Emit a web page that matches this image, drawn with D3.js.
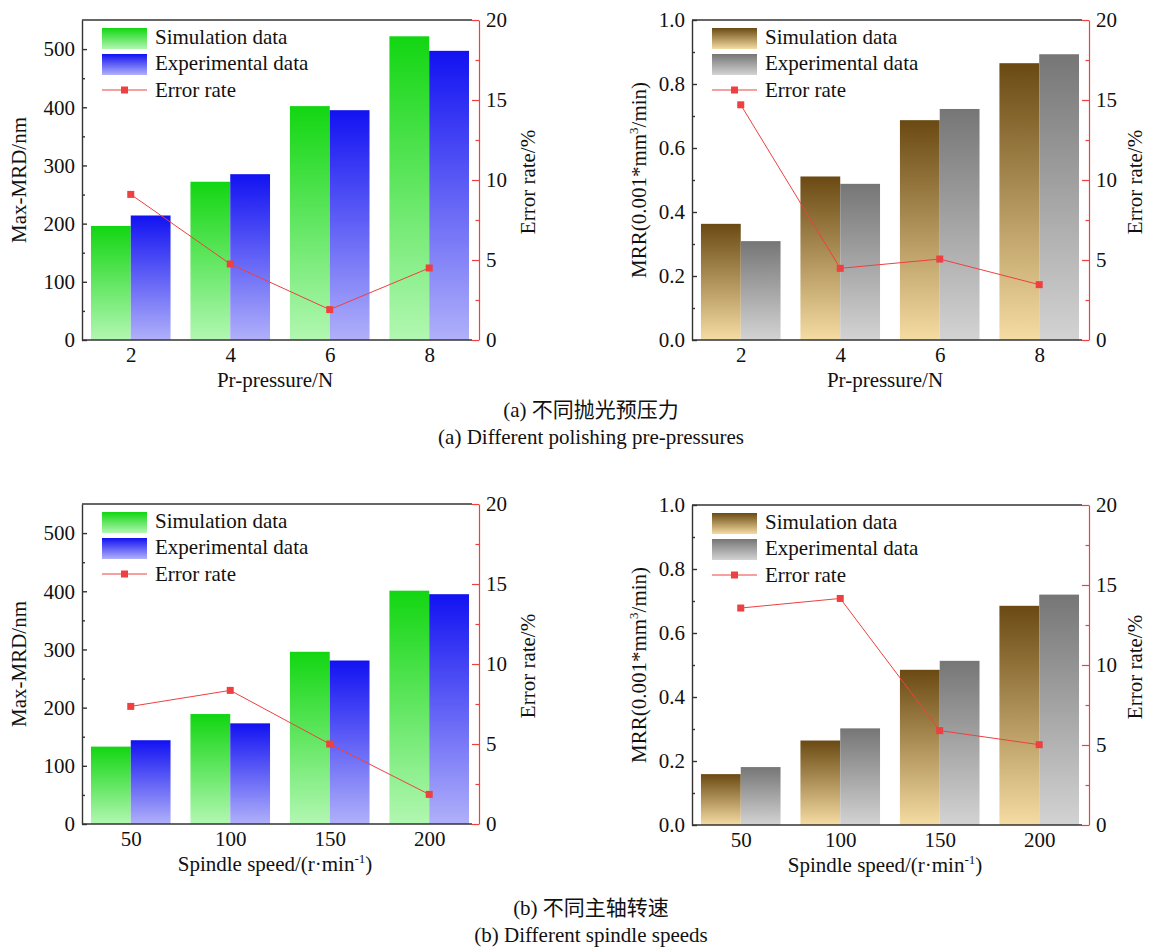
<!DOCTYPE html>
<html>
<head>
<meta charset="utf-8">
<script src="https://cdn.jsdelivr.net/npm/d3@7"></script>
<style>
  body { margin: 0; background: #fff; }
</style>
</head>
<body>
<svg id="svg" width="1152" height="951"></svg>
<script>
// values
var pressure = ["2", "4", "6", "8"];
var mrdSimA = [196, 272, 402, 522];
var mrdExpA = [214, 285, 395, 497];
var mrdErrA = [9.1, 4.75, 1.9, 4.5];
var mrrSimA = [0.363, 0.511, 0.687, 0.865];
var mrrExpA = [0.309, 0.488, 0.722, 0.893];
var mrrErrA = [14.7, 4.48, 5.06, 3.46];

var speed = ["50", "100", "150", "200"];
var mrdSimB = [133, 189, 296, 401];
var mrdExpB = [144, 173, 281, 395];
var mrdErrB = [7.35, 8.35, 5.0, 1.85];
var mrrSimB = [0.159, 0.264, 0.485, 0.685];
var mrrExpB = [0.181, 0.302, 0.513, 0.72];
var mrrErrB = [13.56, 14.16, 5.9, 5.02];

var legendNames = ["Simulation data", "Experimental data", "Error rate"];

var svg = d3.select("#svg");
var W = 390, H = 320;
var red = "#ee4040", axisColor = "#333";
var serif = "'Liberation Serif', 'Times New Roman', serif";
var cjk = "'Liberation Serif', 'Noto Sans CJK SC', serif";

// gradients (per bar, top -> bottom)
var defs = svg.append("defs");
function grad(id, top, bottom) {
  var g = defs.append("linearGradient").attr("id", id)
    .attr("x1", 0).attr("y1", 0).attr("x2", 0).attr("y2", 1);
  g.append("stop").attr("offset", "0%").attr("stop-color", top);
  g.append("stop").attr("offset", "100%").attr("stop-color", bottom);
}
grad("gGreen", "#12d612", "#b2f7b2");
grad("gBlue", "#1212f2", "#b0b0fa");
grad("gBrown", "#6a4a12", "#f5dca2");
grad("gGray", "#767676", "#d3d3d3");

function panel(o) {
  var g = svg.append("g").attr("transform", "translate(" + o.left + "," + o.top + ")");

  var x = d3.scaleLinear().domain([-0.49, 3.43]).range([0, W]);
  var y = d3.scaleLinear().domain(o.yDomain).range([H, 0]);
  var y2 = d3.scaleLinear().domain([0, 20]).range([H, 0]);
  var bw = x(0.4) - x(0);

  // bars
  g.selectAll(".sim").data(o.sim).enter().append("rect")
    .attr("x", function(d, i) { return x(i) - bw; })
    .attr("y", function(d) { return y(d); })
    .attr("width", bw)
    .attr("height", function(d) { return H - y(d); })
    .attr("fill", "url(#" + o.simFill + ")");
  g.selectAll(".exp").data(o.exp).enter().append("rect")
    .attr("x", function(d, i) { return x(i); })
    .attr("y", function(d) { return y(d); })
    .attr("width", bw)
    .attr("height", function(d) { return H - y(d); })
    .attr("fill", "url(#" + o.expFill + ")");

  // error rate line
  var line = d3.line().x(function(d, i) { return x(i); }).y(function(d) { return y2(d); });
  g.append("path").datum(o.err).attr("d", line)
    .attr("fill", "none").attr("stroke", red).attr("stroke-width", 1);
  g.selectAll(".pt").data(o.err).enter().append("rect")
    .attr("x", function(d, i) { return x(i) - 3.5; })
    .attr("y", function(d) { return y2(d) - 3.5; })
    .attr("width", 7).attr("height", 7)
    .attr("fill", red);

  // left axis, inward ticks
  var ax = g.append("g").call(d3.axisLeft(y).tickValues(o.major)
      .tickFormat(o.fmt).tickSizeInner(-5).tickSizeOuter(0).tickPadding(7));
  var axm = g.append("g").call(d3.axisLeft(y).tickValues(o.minor).tickFormat("")
      .tickSizeInner(-3).tickSizeOuter(0));
  axm.select(".domain").remove();

  // bottom axis, labels only
  var bx = g.append("g").attr("transform", "translate(0," + H + ")")
    .call(d3.axisBottom(x).tickValues([0, 1, 2, 3])
      .tickFormat(function(i) { return o.cats[i]; }).tickSize(0).tickPadding(7));
  bx.select(".domain").attr("d", "M0,0H" + W);

  // top frame
  g.append("line").attr("x1", 0).attr("x2", W).attr("y1", 0).attr("y2", 0)
    .attr("stroke", axisColor).attr("stroke-width", 1.4);

  // right axis (red), ticks pointing in
  var rx = g.append("g").attr("transform", "translate(" + (W + 7) + ",0)")
    .call(d3.axisRight(y2).tickValues([0, 5, 10, 15, 20]).tickSizeInner(-7)
      .tickSizeOuter(0).tickPadding(7));
  var rxm = g.append("g").attr("transform", "translate(" + (W + 7) + ",0)")
    .call(d3.axisRight(y2).tickValues([2.5, 7.5, 12.5, 17.5]).tickFormat("")
      .tickSizeInner(-3.5).tickSizeOuter(0));
  rxm.select(".domain").remove();

  [ax, axm, bx].forEach(function(a) {
    a.selectAll("path, line").attr("stroke", axisColor).attr("stroke-width", 1.4);
  });
  [rx, rxm].forEach(function(a) {
    a.selectAll("path, line").attr("stroke", red).attr("stroke-width", 1.2);
  });
  g.selectAll(".tick text").style("font-size", "21px");

  // axis titles
  var xt = g.append("text").attr("x", W / 2 - 2).attr("y", H + 47)
    .attr("text-anchor", "middle").style("font-size", "21px");
  o.xTitle(xt);
  var yt = g.append("text")
    .attr("transform", "translate(" + o.yTitleX + "," + H / 2 + ") rotate(-90)")
    .attr("text-anchor", "middle").style("font-size", "21px");
  o.yTitle(yt);
  g.append("text")
    .attr("transform", "translate(" + (W + o.rTitleX) + "," + (H / 2 + 2) + ") rotate(-90)")
    .attr("text-anchor", "middle").style("font-size", "21px")
    .text("Error rate/%");

  // legend
  var lg = g.append("g").attr("transform", "translate(20,0)");
  lg.append("rect").attr("x", 0).attr("y", 8).attr("width", 45).attr("height", 21)
    .attr("fill", "url(#" + o.simFill + ")");
  lg.append("rect").attr("x", 0).attr("y", 34).attr("width", 45).attr("height", 21)
    .attr("fill", "url(#" + o.expFill + ")");
  lg.append("line").attr("x1", 0).attr("x2", 45).attr("y1", 70).attr("y2", 70)
    .attr("stroke", red).attr("stroke-width", 1);
  lg.append("rect").attr("x", 19).attr("y", 66.5).attr("width", 7).attr("height", 7)
    .attr("fill", red);
  lg.selectAll(".lt").data(legendNames).enter().append("text")
    .attr("x", 53)
    .attr("y", function(d, i) { return [24, 50, 77][i]; })
    .style("font-size", "21px")
    .text(function(d) { return d; });
}

function mrdTitle(t) { t.text("Max-MRD/nm"); }
function mrrTitle(t) {
  t.append("tspan").text("MRR(0.001*mm");
  t.append("tspan").attr("dy", -8).style("font-size", "13px").text("3");
  t.append("tspan").attr("dy", 8).text("/min)");
}
function pressTitle(t) { t.text("Pr-pressure/N"); }
function speedTitle(t) {
  t.append("tspan").text("Spindle speed/(r\u00b7min");
  t.append("tspan").attr("dy", -8).style("font-size", "13px").text("-1");
  t.append("tspan").attr("dy", 8).text(")");
}

var mrdOpts = {
  yDomain: [0, 550], major: [0, 100, 200, 300, 400, 500],
  minor: [50, 150, 250, 350, 450], fmt: d3.format("d"),
  simFill: "gGreen", expFill: "gBlue", yTitle: mrdTitle, yTitleX: -56, rTitleX: 63
};
var mrrOpts = {
  yDomain: [0, 1], major: [0, 0.2, 0.4, 0.6, 0.8, 1.0],
  minor: [0.1, 0.3, 0.5, 0.7, 0.9], fmt: d3.format(".1f"),
  simFill: "gBrown", expFill: "gGray", yTitle: mrrTitle, yTitleX: -46, rTitleX: 60
};

panel(Object.assign({}, mrdOpts, { left: 82, top: 20, cats: pressure, sim: mrdSimA, exp: mrdExpA, err: mrdErrA, xTitle: pressTitle }));
panel(Object.assign({}, mrrOpts, { left: 692, top: 20, cats: pressure, sim: mrrSimA, exp: mrrExpA, err: mrrErrA, xTitle: pressTitle }));
panel(Object.assign({}, mrdOpts, { left: 82, top: 504, cats: speed, sim: mrdSimB, exp: mrdExpB, err: mrdErrB, xTitle: speedTitle }));
panel(Object.assign({}, mrrOpts, { left: 692, top: 505, cats: speed, sim: mrrSimB, exp: mrrExpB, err: mrrErrB, xTitle: speedTitle }));

// captions
var caps = [
  ["(a) 不同抛光预压力", 417], ["(a) Different polishing pre-pressures", 444],
  ["(b) 不同主轴转速", 915], ["(b) Different spindle speeds", 942]
];
svg.selectAll(".cap").data(caps).enter().append("text")
  .attr("x", 591).attr("y", function(d) { return d[1]; })
  .attr("text-anchor", "middle").style("font-size", "21px")
  .text(function(d) { return d[0]; });

// serif everywhere (axis groups set sans-serif by default)
svg.selectAll("text").style("font-family", serif).attr("fill", "#111");
svg.selectAll("text").filter(function(d) { return Array.isArray(d); })
  .style("font-family", cjk);
</script>
</body>
</html>
